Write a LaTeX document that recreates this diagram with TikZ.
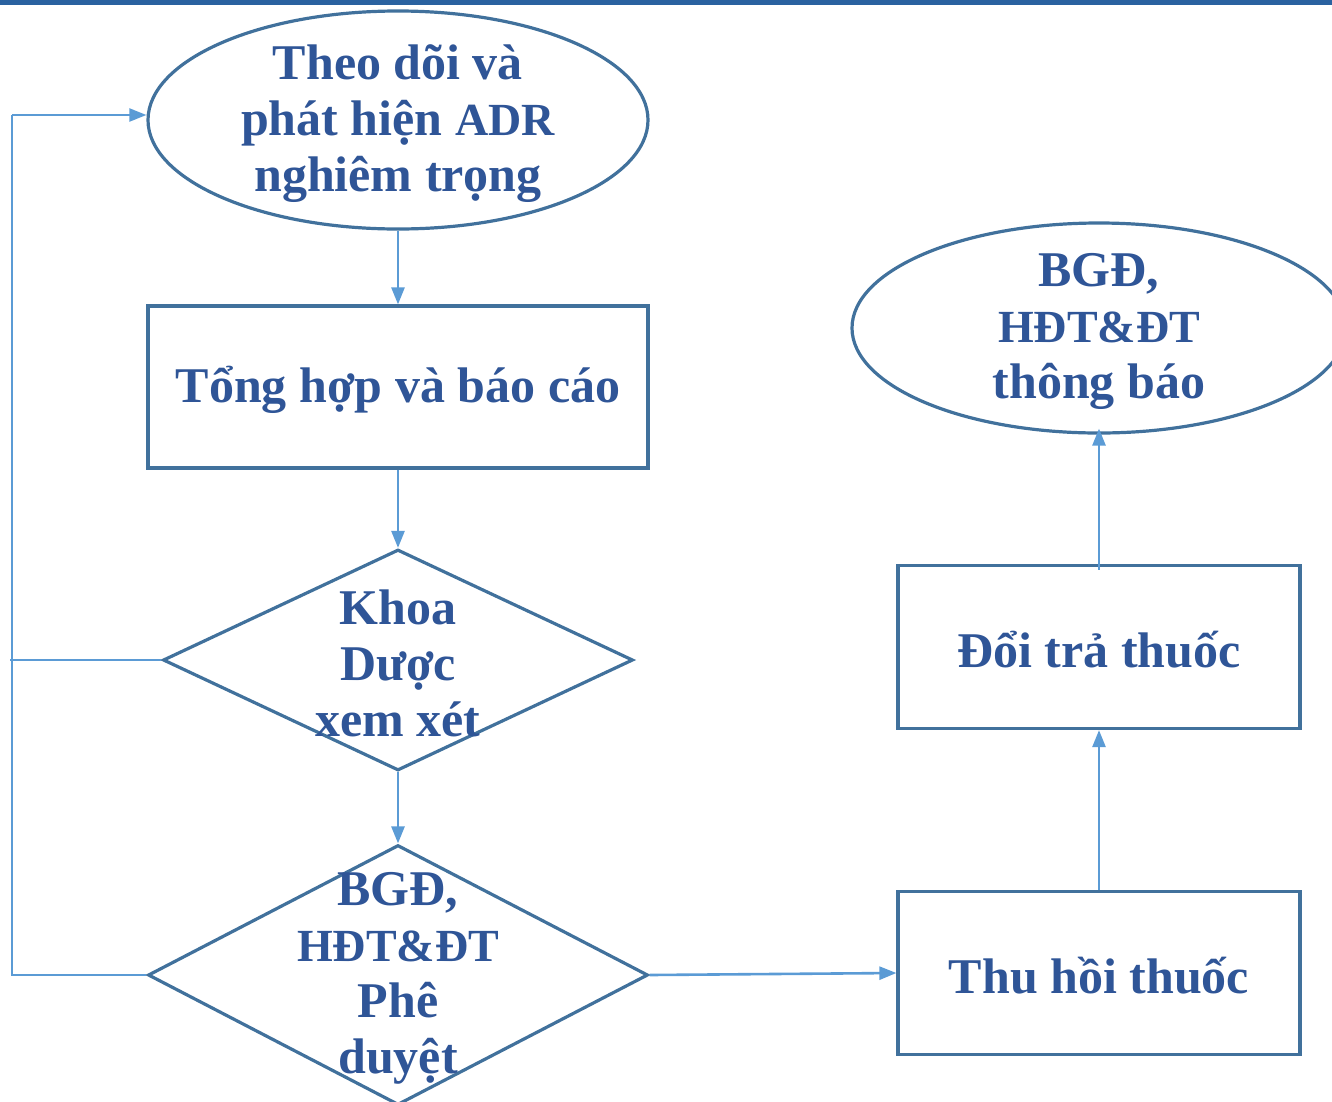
\documentclass[tikz,border=0pt]{standalone}
\usepackage{fontspec}
\setmainfont{Liberation Serif}
\usetikzlibrary{shapes.geometric,arrows.meta}
\definecolor{edgeblue}{HTML}{41719C}
\definecolor{linkblue}{HTML}{5B9BD5}
\definecolor{textblue}{HTML}{2F5597}
\definecolor{barblue}{HTML}{2A62A0}
\begin{document}
\begin{tikzpicture}[x=1pt,y=-1pt,
  shapeline/.style={draw=edgeblue,line width=3.2pt,inner sep=0pt},
  oval/.style={shapeline,ellipse},
  box/.style={shapeline,rectangle,minimum width=500pt,minimum height=162pt},
  rbox/.style={shapeline,rectangle,minimum width=402pt,minimum height=163pt},
  decision/.style={shapeline,diamond},
  label/.style={text=textblue,font=\bfseries\fontsize{50}{56}\selectfont,align=center,inner sep=0pt},
  link/.style={draw=linkblue,line width=2.6pt,-{Triangle[length=17pt,width=13pt]}},
  loopline/.style={draw=linkblue,line width=1.8pt}
]
\useasboundingbox (0,0) rectangle (1332,1101);
\clip (0,0) rectangle (1332,1101);
% heading bar
\fill[barblue] (0,0) rectangle (1332,4.5);

% left column
\node[oval,minimum width=500pt,minimum height=218pt] (watch) at (398,120) {};
\node[label] (watchT) at (398,124) {Theo dõi và\\phát hiện {\fontsize{46}{56}\selectfont ADR}\\nghiêm trọng};

\node[box] (report) at (398,387) {};
\node[label] (reportT) at (398,390) {Tổng hợp và báo cáo};

\node[decision,minimum width=470pt,minimum height=221pt] (review) at (398,660) {};
\node[label] (reviewT) at (398,663) {Khoa\\Dược\\xem xét};

\node[decision,minimum width=500pt,minimum height=260pt] (approve) at (398,975) {};
\node[label] (approveT) at (398,978) {BGĐ,\\{\fontsize{46}{56}\selectfont HĐT\&ĐT}\\Phê\\duyệt};

% right column
\node[rbox] (recall) at (1099,973) {};
\node[label] (recallT) at (1099,976) {Thu hồi thuốc};

\node[rbox] (swap) at (1099,647) {};
\node[label] (swapT) at (1099,650) {Đổi trả thuốc};

\node[oval,minimum width=494pt,minimum height=210pt] (notice) at (1099,328) {};
\node[label] (noticeT) at (1099,331) {BGĐ,\\{\fontsize{46}{56}\selectfont HĐT\&ĐT}\\thông báo};

% main flow
\draw[link] (watch.south) -- (report.north);
\draw[link] (report.south) -- (review.north);
\draw[link] (review.south) -- (approve.north);
\draw[link] (approve.east) -- (recall.west);
\draw[link] (recall.north) -- (swap.south);
\coordinate (swapTop) at ([yshift=-6pt]swap.north);
\draw[link] (swapTop) -- ([yshift=6pt]notice.south);

% feedback loop on the left
\coordinate (loopTop) at (12,115);
\coordinate (loopMid) at (10,660);
\coordinate (loopLow) at (12,975);
\draw[loopline] (review.west) -- (loopMid);
\draw[loopline] (approve.west) -- (loopLow) -- (loopTop);
\draw[link,line width=2.2pt] (loopTop) -- (loopTop -| watch.west);
\end{tikzpicture}
\end{document}
